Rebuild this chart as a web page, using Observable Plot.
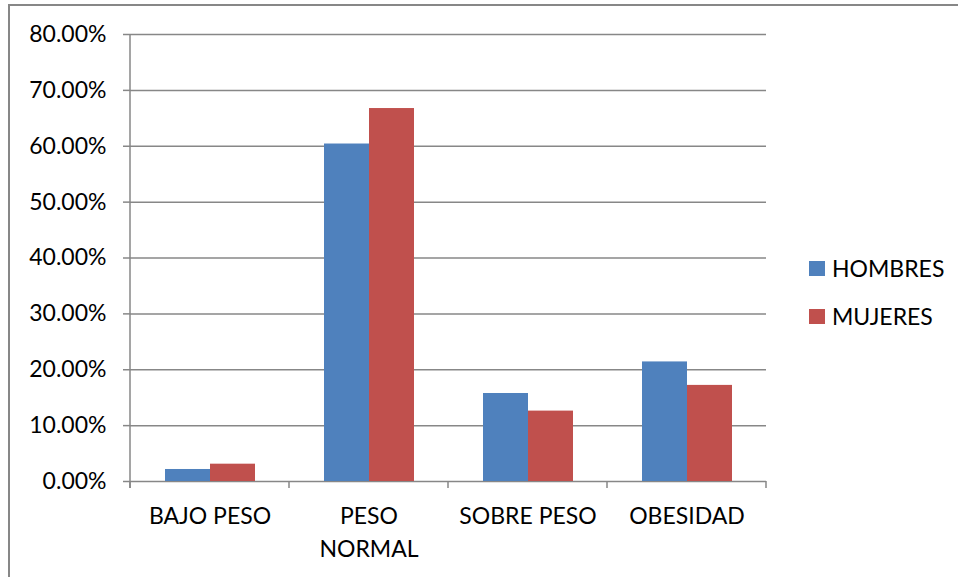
<!DOCTYPE html>
<html><head><meta charset="utf-8">
<script src="https://cdn.jsdelivr.net/npm/d3@7"></script>
<script src="https://cdn.jsdelivr.net/npm/@observablehq/plot@0.6"></script>
<style>
body{margin:0;background:#fff;}
#wrap{position:relative;width:958px;height:577px;overflow:hidden;font-family:Lato,"Liberation Sans",sans-serif;background:#fff;}
#frame{position:absolute;left:8px;top:4px;width:2000px;height:2000px;border-left:2px solid #878787;border-top:2px solid #878787;}
#chart svg{position:absolute;left:0;top:0;}
#legend{position:absolute;left:809px;top:0;font-size:23px;color:#000;}
.item{position:absolute;left:0;height:26px;line-height:26px;display:flex;align-items:center;white-space:nowrap;}
.sw{width:16px;height:15px;margin-right:7px;flex:none;}
</style></head>
<body><div id="wrap"><div id="frame"></div><div id="chart"></div><div id="legend"></div></div>
<script>
const categories = ["BAJO PESO", "PESO NORMAL", "SOBRE PESO", "OBESIDAD"];
const categoryLabels = ["BAJO PESO", "PESO\nNORMAL", "SOBRE PESO", "OBESIDAD"];
const series = ["HOMBRES", "MUJERES"];
const hombres = [2.15, 60.4, 15.75, 21.4];
const mujeres = [3.1, 66.75, 12.6, 17.2];
const yTicks = [0, 10, 20, 30, 40, 50, 60, 70, 80];
const colors = ["#4F81BD", "#C0504D"];

const data = [];
categories.forEach((c, i) => {
  data.push({cat: c, sex: series[0], value: hombres[i]});
  data.push({cat: c, sex: series[1], value: mujeres[i]});
});

const gray = "#878787";
const chart = Plot.plot({
  width: 958,
  height: 577,
  marginLeft: 129,
  marginRight: 192,
  marginTop: 34,
  marginBottom: 96,
  style: {fontFamily: 'Lato, "Liberation Sans", sans-serif', fontSize: "23px", color: "#000", background: "transparent"},
  fx: {domain: categories, padding: 0, label: null},
  x: {domain: series, paddingInner: 0, paddingOuter: 0.75, axis: null},
  y: {domain: [0, 80], label: null},
  color: {domain: series, range: colors},
  marks: [
    Plot.ruleY(yTicks, {stroke: gray, strokeWidth: 1.5}),
    Plot.barY(data, {fx: "cat", x: "sex", y: "value", fill: "sex"}),
    Plot.axisY({ticks: yTicks, tickFormat: d => d.toFixed(2) + "%", tickSize: 7, tickPadding: 17, stroke: gray, strokeWidth: 1.5, strokeOpacity: 1, label: null}),
    Plot.axisFx({anchor: "bottom", tickSize: 0, tickPadding: 20, lineHeight: 1.4, tickFormat: d => categoryLabels[categories.indexOf(d)], label: null})
  ]
});
document.getElementById("chart").appendChild(chart);

// category boundary ticks and vertical axis line, from the plot's own scales
const fx = chart.scale("fx");
const y = chart.scale("y");
const svg = d3.select(chart);
const edges = categories.map(c => fx.apply(c));
edges.push(fx.apply(categories[categories.length - 1]) + fx.bandwidth);
const y0 = y.apply(0), yTop = y.apply(80);
const g = svg.append("g").attr("stroke", gray).attr("stroke-width", 1.5);
g.append("line").attr("x1", edges[0]).attr("x2", edges[0]).attr("y1", yTop).attr("y2", y0 + 7);
edges.forEach(xv => g.append("line").attr("x1", xv).attr("x2", xv).attr("y1", y0).attr("y2", y0 + 7));

// legend
const legend = document.getElementById("legend");
const centers = [268, 316];
series.forEach((s, i) => {
  const it = document.createElement("div");
  it.className = "item";
  it.style.top = (centers[i] - 13) + "px";
  it.innerHTML = `<span class="sw" style="background:${colors[i]}"></span><span>${s}</span>`;
  legend.appendChild(it);
});
</script>
</body></html>
